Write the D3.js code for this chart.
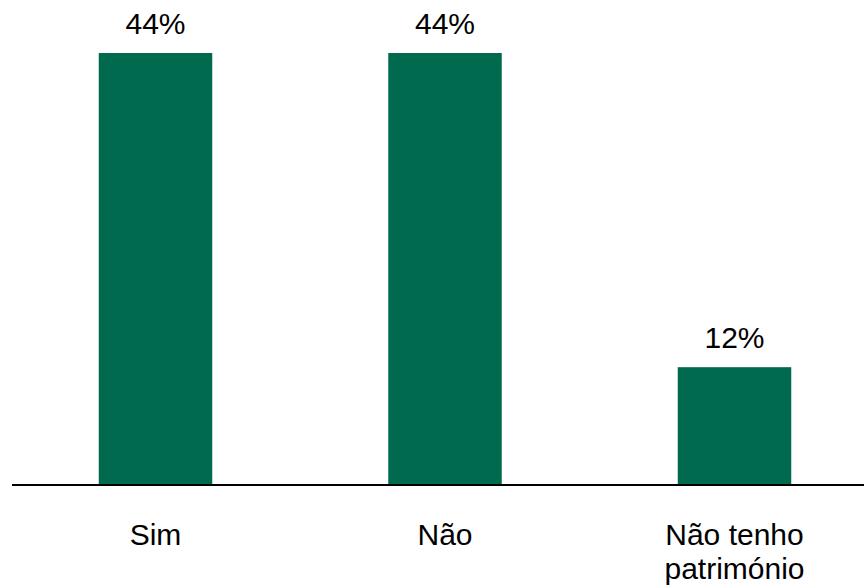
<!DOCTYPE html>
<html>
<head>
<meta charset="utf-8">
<script src="https://cdn.jsdelivr.net/npm/d3@7"></script>
<style>
  body { margin: 0; background: #fff; }
  svg { display: block; font-family: "Liberation Sans", Arial, sans-serif; }
</style>
</head>
<body>
<div id="chart"></div>
<script>
// data
var categories = ["Sim", "Não", "Não tenho\npatrimónio"];
var values = [44, 44, 12];
var valueLabels = ["44%", "44%", "12%"];

var width = 864, height = 586;
var baseY = 485;

var svg = d3.select("#chart").append("svg")
    .attr("width", width)
    .attr("height", height);

var xScale = d3.scaleBand()
    .domain(categories)
    .range([10.75, 879.25])
    .paddingInner(0.608)
    .paddingOuter(0.304);

var yScale = d3.scaleLinear()
    .domain([0, 44])
    .range([baseY, 53]);

var data = categories.map(function(c, i) {
  return { cat: c, val: values[i], label: valueLabels[i] };
});

// bars
svg.selectAll(".bar")
  .data(data)
  .enter().append("rect")
    .attr("class", "bar")
    .attr("x", function(d) { return xScale(d.cat); })
    .attr("y", function(d) { return yScale(d.val); })
    .attr("width", xScale.bandwidth())
    .attr("height", function(d) { return baseY - yScale(d.val); })
    .attr("fill", "#006a4e");

// value labels
svg.selectAll(".val")
  .data(data)
  .enter().append("text")
    .attr("class", "val")
    .attr("x", function(d) { return xScale(d.cat) + xScale.bandwidth() / 2; })
    .attr("y", function(d) { return yScale(d.val) - 19; })
    .attr("text-anchor", "middle")
    .style("font-size", "30px")
    .attr("fill", "#000")
    .text(function(d) { return d.label; });

// baseline
svg.append("line")
    .attr("x1", 12).attr("x2", width)
    .attr("y1", baseY).attr("y2", baseY)
    .attr("stroke", "#000")
    .attr("stroke-width", 2);

// category labels (may wrap on two lines)
var catText = svg.selectAll(".cat")
  .data(data)
  .enter().append("text")
    .attr("class", "cat")
    .attr("text-anchor", "middle")
    .style("font-size", "30px")
    .attr("fill", "#000");

catText.each(function(d) {
  var t = d3.select(this);
  var cx = xScale(d.cat) + xScale.bandwidth() / 2;
  d.cat.split("\n").forEach(function(line, i) {
    t.append("tspan")
      .attr("x", cx)
      .attr("y", 545 + i * 34)
      .text(line);
  });
});
</script>
</body>
</html>
